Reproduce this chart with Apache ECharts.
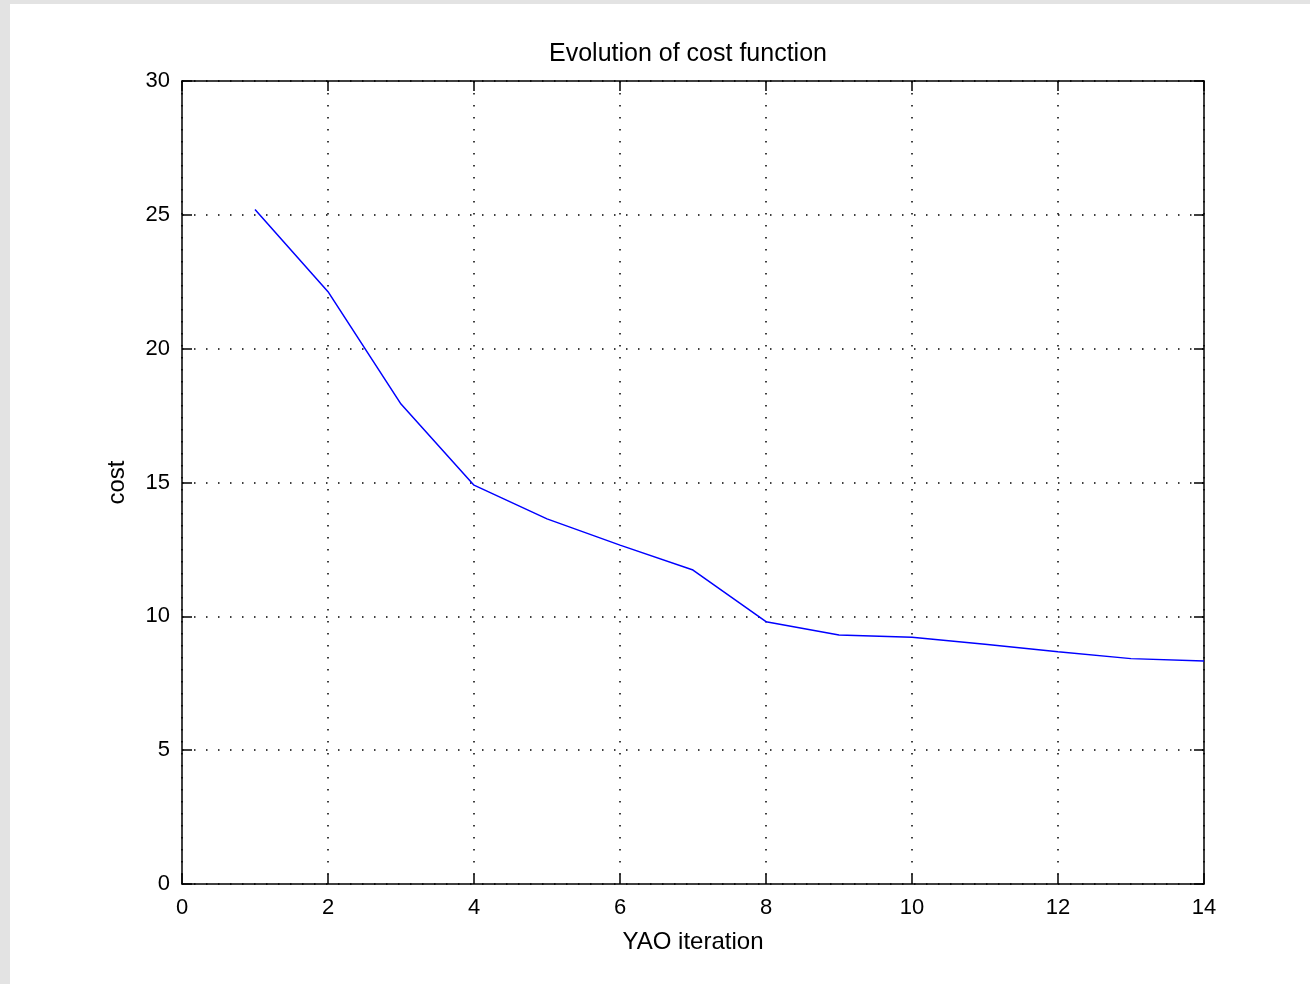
<!DOCTYPE html>
<html><head><meta charset="utf-8">
<script src="https://cdn.jsdelivr.net/npm/echarts@6/dist/echarts.min.js"></script>
<style>html,body{margin:0;padding:0;background:#fff}#c{width:1310px;height:984px}</style>
</head><body><div id="c"></div>
<script>
const iterations = [1,2,3,4,5,6,7,8,9,10,11,12,13,14];
const costValues = [25.2,22.13,17.93,14.9,13.64,12.66,11.73,9.8,9.3,9.22,8.96,8.68,8.42,8.33];
const titleText = 'Evolution of cost function';
const xName = 'YAO iteration';
const yName = 'cost';

const chart = echarts.init(document.getElementById('c'), null, {renderer:'canvas'});
const fontFamily = 'Liberation Sans, Arial, sans-serif';
const gridLine = {show:true, lineStyle:{color:'#000', width:1.5, type:[1.5,10.5]}};
const axisLineStyle = {show:true, onZero:false, lineStyle:{color:'#000', width:1.5}};
const tick = {show:true, inside:true, length:10, lineStyle:{color:'#000', width:1.5}};
const label = {color:'#000', fontSize:22, fontFamily};
chart.setOption({
  animation:false,
  backgroundColor:'#fff',
  graphic:[
    {type:'rect', shape:{x:0,y:0,width:10,height:984}, style:{fill:'#e3e3e3'}},
    {type:'rect', shape:{x:0,y:0,width:1310,height:4}, style:{fill:'#e3e3e3'}}
  ],
  title:{text:titleText, left:544, top:37,
    textStyle:{fontSize:25, fontWeight:'normal', color:'#000', fontFamily}},
  grid:{left:182, top:81, right:106, bottom:100, containLabel:false},
  xAxis:[{
    type:'value', min:0, max:14, interval:2, position:'bottom',
    name:xName, nameLocation:'middle', nameGap:46,
    nameTextStyle:{fontSize:24, color:'#000', fontFamily},
    axisLine:axisLineStyle, axisTick:tick, axisLabel:Object.assign({margin:13}, label),
    splitLine:gridLine
  },{
    type:'value', min:0, max:14, interval:2, position:'top',
    axisLine:axisLineStyle, axisTick:tick, axisLabel:{show:false}, splitLine:{show:false}
  }],
  yAxis:[{
    type:'value', min:0, max:30, interval:5, position:'left',
    name:yName, nameLocation:'middle', nameGap:53, nameRotate:90,
    nameTextStyle:{fontSize:24, color:'#000', fontFamily},
    axisLine:axisLineStyle, axisTick:tick, axisLabel:Object.assign({margin:12}, label),
    splitLine:gridLine
  },{
    type:'value', min:0, max:30, interval:5, position:'right',
    axisLine:axisLineStyle, axisTick:tick, axisLabel:{show:false}, splitLine:{show:false}
  }],
  series:[{
    type:'line', xAxisIndex:0, yAxisIndex:0,
    data: iterations.map((x,i)=>[x, costValues[i]]),
    showSymbol:false, symbol:'none',
    lineStyle:{color:'#0000ff', width:1.5}
  }]
});
</script></body></html>
